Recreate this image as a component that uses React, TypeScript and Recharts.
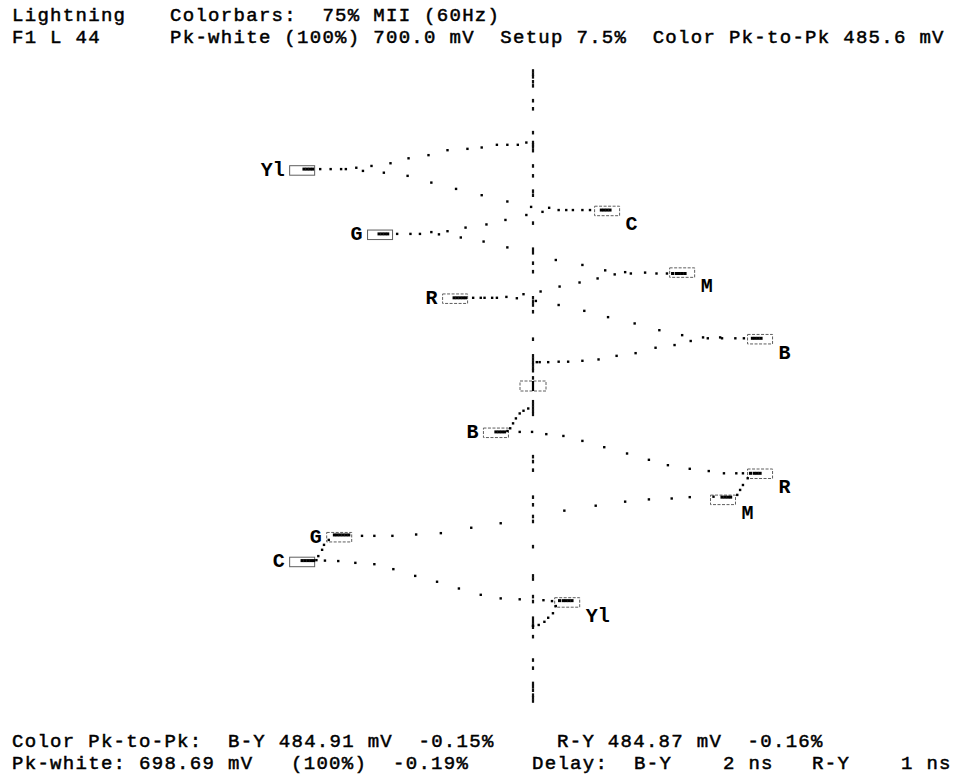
import React from 'react';
import { ScatterChart, Scatter, XAxis, YAxis } from 'recharts';

// Lightning display: x = Pb (upper half) / Pr (lower half) in mV,
// y = luma in mV, drawn upward for the Pb half and downward (negative) for the Pr half.
type Pair = [number, number];

// ---- upper half (Pb vs Y) ----
const topWhiteToYl: Pair[] = [[-7, 541], [-16, 536], [-27, 536], [-38, 536], [-54, 530], [-69, 527], [-90, 524], [-110, 513], [-131, 506], [-150, 495], [-170, 489], [-179, 478], [-186, 485], [-197, 482], [-202, 482], [-213, 482], [-224, 482]];
const topYlToC: Pair[] = [[-157, 474], [-132, 467], [-107, 452], [-81, 438], [-54, 424], [-27, 410], [-2, 398], [10, 387], [17, 396], [27, 391], [35, 391], [42, 391], [52, 391], [60, 391]];
const topCToG: Pair[] = [[-7, 380], [-29, 369], [-49, 359], [-71, 352], [-90, 344], [-99, 337], [-107, 342], [-119, 338], [-129, 338], [-143, 338]];
const topGToM: Pair[] = [[-76, 330], [-52, 321], [-27, 308], [24, 280], [52, 269], [76, 257], [86, 248], [97, 253], [103, 250], [118, 252], [130, 250], [141, 250]];
const topMToR: Pair[] = [[68, 239], [49, 230], [28, 221], [8, 210], [-10, 204], [-17, 195], [-28, 198], [-38, 196], [-43, 196], [-51, 196], [-55, 196], [-63, 196]];
const topRToB: Pair[] = [[3, 189], [27, 180], [54, 167], [79, 153], [107, 139], [133, 124], [157, 113], [179, 108], [184, 106], [197, 108], [199, 106], [213, 106], [222, 106]];
const topBToBlack: Pair[] = [[166, 100], [149, 91], [129, 85], [108, 73], [88, 67], [69, 59], [52, 56], [37, 54], [27, 54], [16, 53], [7, 53], [4, 53]];

const topDwell: Pair[] = [
  [-241, 482], [-238, 482], [-235, 482], [-232, 482],
  [72, 391], [75, 391], [78, 391], [81, 391],
  [-162, 338], [-159, 338], [-156, 338], [-153, 338],
  [147, 250], [151, 250], [154, 250], [157, 250], [160, 250],
  [-83, 196], [-80, 196], [-77, 196], [-74, 196], [-71, 196],
  [231, 106], [234, 106], [237, 106], [240, 106],
];

// ---- lower half (Pr vs inverted Y) ----
const botBlackToB: Pair[] = [[-5, -50], [-10, -55], [-14, -61], [-18, -72], [-21, -83], [-24, -94], [-27, -100]];
const botRToB: Pair[] = [[-14, -102], [-1, -102], [14, -107], [32, -111], [52, -122], [75, -136], [99, -150], [122, -164], [142, -176], [165, -184], [185, -189], [201, -194], [214, -194], [221, -194]];
const botMToR: Pair[] = [[226, -205], [221, -220], [218, -231], [215, -242]];
const botGToM: Pair[] = [[190, -246], [165, -247], [146, -250], [122, -252], [97, -257], [66, -266], [33, -277], [-34, -305], [-65, -315], [-97, -327], [-123, -330], [-148, -333], [-167, -333], [-180, -333]];
const botCToG: Pair[] = [[-215, -342], [-220, -353], [-222, -364], [-226, -378], [-228, -387]];
const botYlToC: Pair[] = [[-219, -388], [-205, -389], [-187, -393], [-167, -396], [-147, -407], [-124, -422], [-101, -435], [-78, -450], [-55, -464], [-34, -472], [-14, -474], [11, -476], [20, -478]];
const botWhiteToYl: Pair[] = [[24, -489], [21, -505], [16, -515], [12, -524], [6, -531], [0, -533]];

const botDwell: Pair[] = [
  [-39, -102], [-36, -102], [-33, -102], [-30, -102],
  [229, -194], [233, -194], [236, -194], [239, -194],
  [199, -247], [202, -247], [205, -247], [208, -247],
  [-209, -331], [-206, -331], [-203, -331], [-200, -331], [-197, -331], [-194, -331],
  [-243, -388], [-240, -388], [-237, -388], [-234, -388], [-231, -388],
  [28, -477], [32, -477], [35, -477], [38, -477], [41, -477],
];

// marks on the luma axis (graticule ticks plus white / black dwell), mV
const axisMarks: number[] = [
  700, 693, 687, 676, 667, 634, 616, 563, 541, 536, 531, 523, 489, 467, 433, 424, 362, 304, 296, 273, 254, 196, 187, 180, 165, 104, 67, 60, 53, 47, 40, 34, 18,
  -35, -42, -49, -56, -63, -157, -168, -187, -247, -264, -290, -301, -357, -422, -429, -468, -479, -516, -524, -531, -536, -557, -609, -627, -661, -668, -676, -687, -693, -700,
];

// target boxes
const topTargets = [
  { id: 'tYl', name: 'Yl', x: -243, y: 479 },
  { id: 'tC', name: 'C', x: 78, y: 389 },
  { id: 'tG', name: 'G', x: -161, y: 336 },
  { id: 'tM', name: 'M', x: 157, y: 252 },
  { id: 'tR', name: 'R', x: -82, y: 194 },
  { id: 'tB', name: 'B', x: 239, y: 104 },
];
const botTargets = [
  { id: 'bB', name: 'B', x: -39, y: -104 },
  { id: 'bR', name: 'R', x: 239, y: -195 },
  { id: 'bM', name: 'M', x: 200, y: -253 },
  { id: 'bG', name: 'G', x: -204, y: -336 },
  { id: 'bC', name: 'C', x: -243, y: -391 },
  { id: 'bYl', name: 'Yl', x: 36, y: -481 },
];
const centerTarget = [{ id: 'center', name: '', x: 0, y: 0 }];

const LABEL_LEFT = ['tYl', 'tG', 'tR', 'bB', 'bG', 'bC'];
const SOLID_BOX = ['tYl', 'tG', 'bC'];

const FONT = "'Liberation Mono', 'DejaVu Sans Mono', monospace";

const pts = (a: Pair[]) => a.map(([x, y]) => ({ x, y }));

const traceDots = pts([
  ...topWhiteToYl, ...topYlToC, ...topCToG, ...topGToM, ...topMToR, ...topRToB, ...topBToBlack,
  ...botBlackToB, ...botRToB, ...botMToR, ...botGToM, ...botCToG, ...botYlToC, ...botWhiteToYl,
]);
const dwellDots = pts([...topDwell, ...botDwell]);
const axisData = axisMarks.map((y) => ({ x: 0, y }));

const TraceDot = (p: any) => <rect x={p.cx - 1.2} y={p.cy - 1.2} width={2.4} height={2.4} fill="#000" />;
const DwellDot = (p: any) => <rect x={p.cx - 1.6} y={p.cy - 1.5} width={3.2} height={3} fill="#000" />;
const AxisMark = (p: any) => <rect x={p.cx - 1.1} y={p.cy - 1.8} width={2.2} height={3.6} fill="#111" />;

const TargetBox = (p: any) => {
  const { cx, cy, payload } = p;
  const isCenter = payload.id === 'center';
  const w = isCenter ? 26 : 25;
  const h = isCenter ? 10 : 9.5;
  const left = LABEL_LEFT.includes(payload.id);
  return (
    <g>
      <rect
        x={cx - w / 2}
        y={cy - h / 2}
        width={w}
        height={h}
        fill="none"
        stroke="#5e5e5e"
        strokeWidth={1}
        strokeDasharray={SOLID_BOX.includes(payload.id) ? undefined : '3 1.5'}
      />
      {isCenter && <line x1={cx} x2={cx} y1={cy - h / 2} y2={cy + h / 2} stroke="#000" strokeWidth={2.2} />}
      {payload.name && (
        <text
          x={left ? cx - w / 2 - 5 : cx + w / 2 + 6}
          y={left ? cy : cy + 14}
          textAnchor={left ? 'end' : 'start'}
          dominantBaseline="central"
          fontFamily={FONT}
          fontWeight={700}
          fontSize={20}
          fill="#000"
        >
          {payload.name}
        </text>
      )}
    </g>
  );
};

// absolutely placed status text; baseline sits about 13px below `top`
const textStyle = (left: number, top: number): React.CSSProperties => ({
  position: 'absolute',
  left,
  top,
  fontFamily: FONT,
  fontSize: 19,
  fontWeight: 400,
  letterSpacing: 1.3,
  lineHeight: '16px',
  whiteSpace: 'pre',
  color: '#000',
  WebkitTextStroke: '0.5px #000',
});

export default function App() {
  return (
    <div style={{ position: 'absolute', left: 0, top: 0, width: 960, height: 775, background: '#fff', overflow: 'hidden' }}>
      <ScatterChart width={960} height={775} margin={{ left: 229, right: 123, top: 71, bottom: 74 }}>
        <XAxis type="number" dataKey="x" domain={[-320, 320]} hide />
        <YAxis type="number" dataKey="y" domain={[-700, 700]} hide />
        <Scatter data={axisData} shape={AxisMark} isAnimationActive={false} />
        <Scatter data={[...topTargets, ...botTargets, ...centerTarget]} shape={TargetBox} isAnimationActive={false} />
        <Scatter data={traceDots} shape={TraceDot} isAnimationActive={false} />
        <Scatter data={dwellDots} shape={DwellDot} isAnimationActive={false} />
      </ScatterChart>

      <div style={textStyle(12, 8)}>Lightning</div>
      <div style={textStyle(170, 8)}>Colorbars:  75% MII (60Hz)</div>
      <div style={textStyle(12, 30)}>F1 L 44</div>
      <div style={textStyle(170, 30)}>Pk-white (100%) 700.0 mV  Setup 7.5%  Color Pk-to-Pk 485.6 mV</div>

      <div style={textStyle(12, 734)}>Color Pk-to-Pk:  B-Y 484.91 mV  -0.15%</div>
      <div style={textStyle(557, 734)}>R-Y 484.87 mV  -0.16%</div>
      <div style={textStyle(12, 755.5)}>Pk-white: 698.69 mV</div>
      <div style={textStyle(291, 755.5)}>(100%)</div>
      <div style={textStyle(393, 755.5)}>-0.19%</div>
      <div style={textStyle(532, 755.5)}>Delay:</div>
      <div style={textStyle(634, 755.5)}>B-Y</div>
      <div style={textStyle(723, 755.5)}>2 ns</div>
      <div style={textStyle(812, 755.5)}>R-Y</div>
      <div style={textStyle(901, 755.5)}>1 ns</div>
    </div>
  );
}
